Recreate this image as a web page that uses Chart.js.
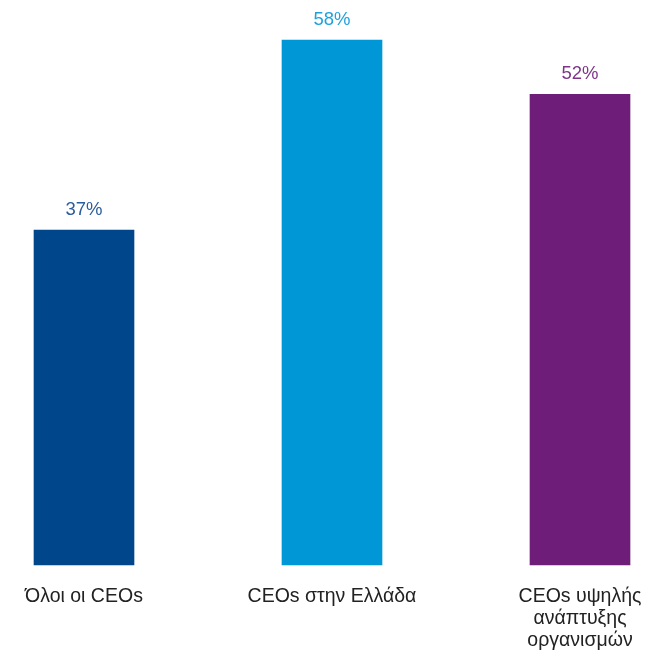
<!DOCTYPE html>
<html>
<head>
<meta charset="utf-8">
<script src="https://cdn.jsdelivr.net/npm/chart.js@4"></script>
<style>
  html, body { margin: 0; padding: 0; background: #fff; }
  #wrap { width: 645px; height: 658px; }
</style>
</head>
<body>
<div id="wrap"><canvas id="myChart"></canvas></div>
<script>
var labels = [
    "Όλοι οι CEOs",
    "CEOs στην Ελλάδα",
    ["CEOs υψηλής", "ανάπτυξης", "οργανισμών"]
];
var values = [37, 58, 52];
var barColors = ["#00468B", "#0097D6", "#6E1E78"];
var labelColors = ["#2B5C9C", "#1FA2DC", "#7E3588"];

// percentage above each bar
var valueLabels = {
    id: 'valueLabels',
    afterDatasetsDraw: function(chart) {
        var ctx = chart.ctx;
        var meta = chart.getDatasetMeta(0);
        ctx.save();
        ctx.font = '18.5px "Liberation Sans"';
        ctx.textAlign = 'center';
        ctx.textBaseline = 'middle';
        meta.data.forEach(function(bar, i) {
            ctx.fillStyle = labelColors[i];
            ctx.fillText(values[i] + '%', bar.x, bar.y - 20);
        });
        ctx.restore();
    }
};

const ctx = document.getElementById('myChart');
var myChart = new Chart(ctx, {
    type: 'bar',
    data: {
        labels: labels,
        datasets: [{
            data: values,
            backgroundColor: barColors,
            barThickness: 100,
            clip: false
        }]
    },
    options: {
        responsive: true,
        maintainAspectRatio: false,
        animation: false,
        layout: {
            padding: { left: 84, right: 65, top: 22, bottom: 0 }
        },
        plugins: {
            legend: { display: false },
            tooltip: { enabled: false }
        },
        scales: {
            x: {
                offset: false,
                border: { display: false },
                grid: { display: false },
                afterFit: function(scale) {
                    scale.height = 93;
                    scale.paddingLeft = 0;
                    scale.paddingRight = 0;
                },
                ticks: {
                    color: '#222',
                    padding: 13,
                    maxRotation: 0,
                    autoSkip: false,
                    font: { family: '"Liberation Sans"', size: 19.5, lineHeight: 1.13 }
                }
            },
            y: {
                display: false,
                min: 0,
                max: 60
            }
        }
    },
    plugins: [valueLabels]
});
</script>
</body>
</html>
